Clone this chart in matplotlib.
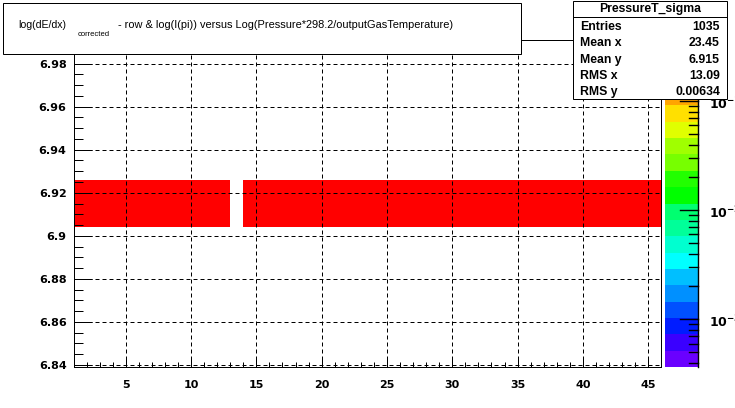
import matplotlib
matplotlib.use("Agg")
import matplotlib.pyplot as plt
import numpy as np
from matplotlib.colors import ListedColormap, LogNorm
from matplotlib.patches import Rectangle
from matplotlib.lines import Line2D
from matplotlib.ticker import MultipleLocator, FuncFormatter, NullFormatter

# ---------------- data ----------------
x_min, x_max = 1, 46          # row axis (45 bins of width 1)
y_min, y_max, n_ybins = 6.839, 6.991, 7
filled_ybin = 3               # bin 6.904 .. 6.926
# sigma content per row bin (all at the top of the colour scale); row 13-14 empty
row_values = [0.36, 0.36, 0.36, 0.36, 0.36, 0.36, 0.36, 0.36, 0.36, 0.36,
              0.36, 0.36, np.nan, 0.36, 0.36, 0.36, 0.36, 0.36, 0.36, 0.36,
              0.36, 0.36, 0.36, 0.36, 0.36, 0.36, 0.36, 0.36, 0.36, 0.36,
              0.36, 0.36, 0.36, 0.36, 0.36, 0.36, 0.36, 0.36, 0.36, 0.36,
              0.36, 0.36, 0.36, 0.36, 0.36]
z_min, z_max = 10 ** -3.437, 10 ** -0.44

x_ticks = [5, 10, 15, 20, 25, 30, 35, 40, 45]
y_ticks = [6.84, 6.86, 6.88, 6.90, 6.92, 6.94, 6.96, 6.98]
z_decades = [-1, -2, -3]

title_main = "log(dE/dx)"
title_sub = "corrected"
title_rest = "- row & log(I(pi)) versus Log(Pressure*298.2/outputGasTemperature)"
stats_name = "PressureT_sigma"
stats_labels = ["Entries", "Mean x", "Mean y", "RMS x", "RMS y"]
stats_values = ["1035", "23.45", "6.915", "13.09", "0.00634"]

palette = ["#6a00ff", "#3a00ff", "#001cff", "#0050ff", "#0090ff",
           "#00bfff", "#00ffff", "#00ffd0", "#00ff99", "#00ff70",
           "#00ff00", "#22ff00", "#77ff00", "#a0ff00", "#e0ff00",
           "#ffe000", "#ffa500", "#ff7000", "#ff3800", "#ff0000"]

# ---------------- figure ----------------
W, H = 735, 408
fig = plt.figure(figsize=(W / 100, H / 100), dpi=100)
fig.patch.set_facecolor("white")

def fx(px):
    return px / W

def fy(py):
    return 1 - py / H

L, R, T, B = 73.5, 661.3, 40, 367
ax = fig.add_axes([fx(L), fy(B), (R - L) / W, (B - T) / H])

x_edges = np.arange(x_min, x_max + 1)
y_edges = np.linspace(y_min, y_max, n_ybins + 1)
Z = np.full((n_ybins, len(row_values)), np.nan)
Z[filled_ybin, :] = row_values

cmap = ListedColormap(palette)
norm = LogNorm(vmin=z_min, vmax=z_max)
mesh = ax.pcolormesh(x_edges, y_edges, np.ma.masked_invalid(Z), cmap=cmap, norm=norm)

ax.set_xlim(x_min, x_max)
ax.set_ylim(y_min, y_max)
ax.set_xticks(x_ticks)
ax.set_yticks(y_ticks)
ax.xaxis.set_minor_locator(MultipleLocator(1))
ax.yaxis.set_minor_locator(MultipleLocator(0.005))
ax.yaxis.set_major_formatter(FuncFormatter(lambda v, p: f"{round(v, 4):g}"))
ax.xaxis.set_major_formatter(FuncFormatter(lambda v, p: f"{int(round(v))}"))

px = 0.72  # one pixel in points
ax.tick_params(axis="x", which="major", direction="in", length=9.8 * px, width=px,
               top=False, pad=9, labelsize=8)
ax.tick_params(axis="x", which="minor", direction="in", length=4.9 * px, width=px, top=False)
ax.tick_params(axis="y", which="major", direction="in", length=17.6 * px, width=px,
               right=False, pad=5, labelsize=8)
ax.tick_params(axis="y", which="minor", direction="in", length=8.8 * px, width=px, right=False)
for lab in ax.get_xticklabels() + ax.get_yticklabels():
    lab.set_fontweight("bold")
    lab.set_family("DejaVu Sans")

ax.grid(True, which="major", color="black", linestyle=(0, (4, 3)), linewidth=px)
for s in ax.spines.values():
    s.set_linewidth(px)
    s.set_color("black")

# ---------------- colour bar ----------------
CL, CR = 665, 698.3
cax = fig.add_axes([fx(CL), fy(B), (CR - CL) / W, (B - T) / H])
cb = fig.colorbar(mesh, cax=cax)
cb.outline.set_visible(False)
cax.tick_params(which="both", length=0, left=False, right=False)
cax.yaxis.set_major_formatter(NullFormatter())
cax.yaxis.set_minor_formatter(NullFormatter())

def zpix(v):
    frac = (np.log10(v) - np.log10(z_min)) / (np.log10(z_max) - np.log10(z_min))
    return B - frac * (B - T)

# colour-bar axis line and ticks (pointing inward from the right edge)
fig.add_artist(Line2D([fx(CR), fx(CR)], [fy(T), fy(B)], color="black", lw=1.0,
                      transform=fig.transFigure, zorder=5))
for e in z_decades + [0, -4]:
    for m in range(1, 10):
        v = m * 10.0 ** e
        if not (z_min <= v <= z_max):
            continue
        yy = zpix(v)
        ln = 18 if m == 1 else 9
        fig.add_artist(Line2D([fx(CR - ln), fx(CR)], [fy(yy), fy(yy)], color="black",
                              lw=1.0, transform=fig.transFigure, zorder=5))

for e in z_decades:
    fig.text(fx(709), fy(zpix(10.0 ** e) + 3), r"$\mathbf{10^{%d}}$" % e, fontsize=9,
             ha="left", va="center", family="DejaVu Sans", zorder=5)

# ---------------- title + stats (overlay) ----------------
ov = fig.add_axes([0, 0, 1, 1], zorder=10)
ov.set_xlim(0, W)
ov.set_ylim(H, 0)
ov.axis("off")
ov.patch.set_alpha(0)

ov.add_patch(Rectangle((3, 3), 518, 51, facecolor="white", edgecolor="black", lw=px, zorder=3))
ov.text(18, 25, title_main, fontsize=7.6, family="Liberation Sans", ha="left", va="center", zorder=4)
ov.text(78, 35, title_sub, fontsize=5.5, family="Liberation Sans", ha="left", va="center", zorder=4)
ov.text(118, 25, title_rest, fontsize=7.9, family="Liberation Sans", ha="left", va="center", zorder=4)

sx0, sx1, sy0, sy1 = 573.5, 727, 0.5, 99
ov.add_patch(Rectangle((sx0, sy0), sx1 - sx0, sy1 - sy0, facecolor="white",
                       edgecolor="black", lw=px, zorder=3))
ov.plot([sx0, sx1], [17, 17], color="black", lw=px, zorder=4)
ov.text((sx0 + sx1) / 2, 9, stats_name, fontsize=8.8, fontweight="bold",
        family="Liberation Sans", ha="center", va="center", zorder=4)
row_y = [27, 43.5, 60, 76, 92]
for lab, val, yy in zip(stats_labels, stats_values, row_y):
    ov.text(580, yy, lab, fontsize=8.8, fontweight="bold", family="Liberation Sans",
            ha="left", va="center", zorder=4)
    ov.text(720, yy, val, fontsize=8.8, fontweight="bold", family="Liberation Sans",
            ha="right", va="center", zorder=4)

fig.savefig("out.png", dpi=100)
